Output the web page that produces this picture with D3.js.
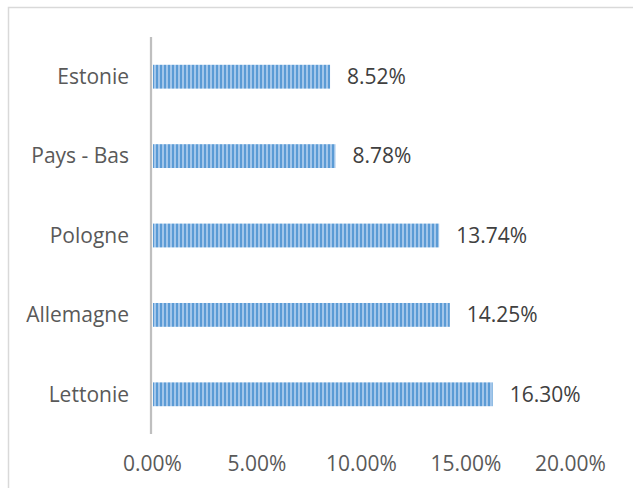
<!DOCTYPE html>
<html>
<head>
<meta charset="utf-8">
<script src="https://cdn.jsdelivr.net/npm/d3@7/dist/d3.min.js"></script>
<style>
  html, body { margin: 0; padding: 0; background: #fff; }
  svg { display: block; }
</style>
</head>
<body>
<script>
const categories = ["Estonie", "Pays - Bas", "Pologne", "Allemagne", "Lettonie"];
const values = [8.52, 8.78, 13.74, 14.25, 16.30];
const tickValues = [0, 5, 10, 15, 20];
const tickLabels = ["0.00%", "5.00%", "10.00%", "15.00%", "20.00%"];

const W = 633, H = 488;
const font = "'Open Sans', sans-serif";
const svg = d3.select("body").append("svg").attr("width", W).attr("height", H);

const defs = svg.append("defs");
const pat = defs.append("pattern").attr("id", "vstripe")
  .attr("patternUnits", "userSpaceOnUse").attr("width", 4).attr("height", 4);
pat.append("rect").attr("width", 4).attr("height", 4).attr("fill", "#a3c6ea");
pat.append("rect").attr("width", 2).attr("height", 4).attr("fill", "#5b9bd5");

// chart border (extends past the window on right/bottom)
svg.append("rect").attr("x", 8.5).attr("y", 7.5).attr("width", 700).attr("height", 600)
  .attr("fill", "none").attr("stroke", "#d9d9d9").attr("stroke-width", 1.5);

const x = d3.scaleLinear().domain([0, 20]).range([152, 570]);
const y = d3.scaleBand().domain(categories).range([37, 434]).paddingInner(0.7).paddingOuter(0.35);

// bars
svg.append("g").selectAll("rect").data(values).join("rect")
  .attr("x", x(0) + 1)
  .attr("y", (d, i) => y(categories[i]))
  .attr("width", d => x(d) - x(0) - 1)
  .attr("height", y.bandwidth())
  .attr("fill", "url(#vstripe)");

// y axis line
svg.append("line").attr("x1", 151).attr("x2", 151).attr("y1", 37).attr("y2", 434)
  .attr("stroke", "#bfbfbf").attr("stroke-width", 2.25);

// category labels
svg.append("g").selectAll("text").data(categories).join("text")
  .attr("x", 129)
  .attr("y", d => y(d) + y.bandwidth() / 2)
  .attr("dy", "0.35em")
  .attr("text-anchor", "end")
  .attr("font-family", font).attr("font-size", 21).attr("fill", "#595959")
  .text(d => d);

// value labels
svg.append("g").selectAll("text").data(values).join("text")
  .attr("x", d => x(d) + 17)
  .attr("y", (d, i) => y(categories[i]) + y.bandwidth() / 2)
  .attr("dy", "0.35em")
  .attr("font-family", font).attr("font-size", 21).attr("fill", "#404040")
  .text(d => d.toFixed(2) + "%");

// x axis tick labels
const xAxis = d3.axisBottom(x).tickValues(tickValues)
  .tickFormat((d, i) => tickLabels[i]).tickSize(0).tickPadding(0);
const gx = svg.append("g").attr("transform", "translate(0,456)").call(xAxis);
gx.select(".domain").remove();
gx.selectAll("text").attr("font-family", font).attr("font-size", 21).attr("fill", "#595959");
</script>
</body>
</html>
